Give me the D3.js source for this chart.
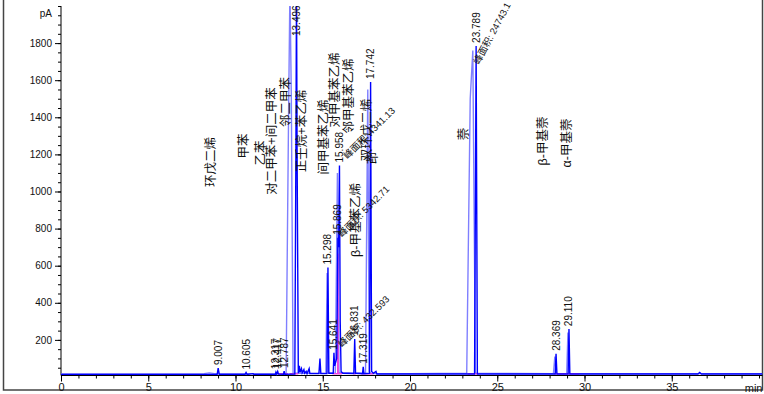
<!DOCTYPE html>
<html>
<head>
<meta charset="utf-8">
<script src="https://cdn.jsdelivr.net/npm/d3@7"></script>
<style>
  body { margin: 0; background: #fff; }
  svg { display: block; }
  text { font-family: "Liberation Sans", Arial, "Noto Sans CJK SC", sans-serif; fill: #111; }
</style>
</head>
<body>
<script>
// ---- data (time in min, signal in pA) ----
// main trace (dark blue)
var darkT = [0, 8.0, 8.95, 9.007, 9.07, 10.55, 10.605, 10.66, 11.0, 11.05, 11.1,
  12.28, 12.317, 12.36, 12.417, 12.46, 12.75, 12.787, 12.83,
  13.40, 13.46, 13.496, 13.53, 13.60, 13.66, 13.70, 13.78, 13.82, 13.92, 13.96, 14.05, 14.10, 14.22, 14.26,
  14.78, 14.84, 14.89, 15.24, 15.298, 15.35, 15.60, 15.641, 15.68, 15.80, 15.869, 15.91, 15.958, 16.00, 16.05, 16.15,
  16.78, 16.831, 16.88, 17.28, 17.319, 17.36, 17.68, 17.742, 17.80, 17.90, 18.05, 18.10,
  23.70, 23.789, 23.86, 28.32, 28.369, 28.42, 29.06, 29.110, 29.16, 36.5, 36.6, 36.7, 40.2];
var darkV = [14, 14, 14, 48, 14, 14, 24, 14, 18, 14, 14,
  14, 26, 16, 30, 16, 15, 32, 15,
  16, 1200, 2100, 1200, 20, 60, 25, 45, 22, 40, 20, 30, 18, 45, 18,
  18, 100, 18, 18, 590, 20, 20, 130, 60, 100, 750, 700, 1140, 300, 30, 20,
  18, 205, 20, 18, 55, 18, 20, 1590, 30, 20, 30, 16,
  16, 1785, 16, 16, 125, 16, 16, 258, 16, 16, 24, 16, 16];

// second trace (light blue), slightly earlier and broader
var lightT = [0, 8.2, 8.5, 8.8, 12.9, 13.05, 13.12, 13.2, 13.3, 15.18, 15.25, 15.32,
  15.72, 15.84, 15.93, 17.45, 17.58, 17.66, 17.75, 20.0, 23.25, 23.45, 23.6, 23.75,
  28.22, 28.30, 28.38, 28.98, 29.05, 29.13, 40.2];
var lightV = [16, 18, 22, 18, 18, 1500, 2100, 1500, 20, 20, 560, 22,
  20, 1100, 24, 20, 1550, 30, 18, 18, 20, 1500, 1760, 20,
  18, 110, 18, 18, 240, 18, 18];

// integration baseline / integrated peak (pink); null breaks the line
var pinkT = [12.45, 13.0, null, 13.1, 13.6, null, 15.55, 15.86, 15.87, 15.88, 16.1, null,
  16.75, 16.9, null, 17.2, 17.9, null, 23.3, 23.95, null, 28.25, 29.7];
var pinkV = [18, 18, null, 18, 18, null, 18, 18, 665, 18, 18, null,
  18, 18, null, 18, 18, null, 18, 18, null, 18, 18];

// retention time labels
var rtTimes = [9.007, 10.605, 12.317, 12.417, 12.787, 13.496, 15.298, 15.641, 15.869, 15.958,
  16.831, 17.319, 17.742, 23.789, 28.369, 29.110];
var rtHeights = [48, 24, 26, 30, 32, 2100, 590, 130, 750, 1140, 205, 55, 1590, 1785, 125, 258];

// peak area labels
var areaTimes = [15.641, 15.869, 15.958, 23.789];
var areaHeights = [130, 750, 1140, 1785];
var areaValues = ["432.593", "5342.71", "4341.13", "24743.1"];

// compound names and the time where each name stands
var names = ["环戊二烯", "甲苯", "乙苯", "对二甲苯+间二甲苯", "邻二甲苯", "正壬烷+苯乙烯",
  "间甲基苯乙烯", "对甲基苯乙烯", "邻甲基苯乙烯", "β-甲基苯乙烯", "双环戊二烯", "茚",
  "萘", "β-甲基萘", "α-甲基萘"];
var nameTimes = [8.62, 10.5, 11.47, 12.1, 12.9, 13.81, 15.06, 15.69, 16.49, 16.89, 17.52, 17.86,
  23.11, 27.62, 28.99];

var xMajor = [0, 5, 10, 15, 20, 25, 30, 35];
var yMajor = [200, 400, 600, 800, 1000, 1200, 1400, 1600, 1800];

// ---- layout ----
var W = 764, H = 394;
var pL = 61, pR = 762.5, pT = 6, pB = 375.5;
var nameMidY = [162, 146, 153, 141, 102, 131, 137, 90, 96, 220, 130, 158, 134, 141, 143];
var areaOffset = [[8, -5, -45], [4, 0, -45], [8, -6, -45], [3, 19, -62]];

var svg = d3.select("body").append("svg").attr("width", W).attr("height", H);

var x = d3.scaleLinear().domain([0, 40.2]).range([pL, pR]);
var y = d3.scaleLinear().domain([8, 2000]).range([pB, pT]);

// outer frame
svg.append("rect").attr("x", 3.5).attr("y", -2).attr("width", 759).attr("height", 392)
  .attr("fill", "none").attr("stroke", "#444").attr("stroke-width", 1.5);

svg.append("clipPath").attr("id", "plot")
  .append("rect").attr("x", pL).attr("y", pT).attr("width", pR - pL).attr("height", pB - pT + 2);

// axes
var gx = svg.append("g").attr("transform", "translate(0," + pB + ")");
gx.call(d3.axisBottom(x).tickValues(d3.range(0, 41, 1)).tickSize(3).tickFormat(""));
gx.append("g").call(d3.axisBottom(x).tickValues(xMajor).tickSize(6).tickPadding(2).tickFormat(d3.format("d")));
gx.selectAll("text").attr("font-size", 11).attr("fill", "#111");
gx.selectAll(".domain").remove();
svg.append("line").attr("x1", pL).attr("x2", pR).attr("y1", pB).attr("y2", pB).attr("stroke", "#000");
svg.append("text").attr("x", pR).attr("y", 392).attr("text-anchor", "end")
  .attr("font-size", 11).text("min");

var gy = svg.append("g").attr("transform", "translate(" + pL + ",0)");
gy.call(d3.axisLeft(y).tickValues(d3.range(50, 2001, 50)).tickSize(3).tickFormat(""));
gy.append("g").call(d3.axisLeft(y).tickValues(yMajor).tickSize(6).tickPadding(3).tickFormat(d3.format("d")));
gy.selectAll("text").attr("font-size", 10).attr("fill", "#111");
gy.selectAll(".domain").remove();
svg.append("line").attr("x1", pL).attr("x2", pL).attr("y1", pT).attr("y2", pB).attr("stroke", "#000");
svg.append("text").attr("x", 52).attr("y", 17).attr("text-anchor", "end")
  .attr("font-size", 10).text("pA");

// traces
var line = d3.line()
  .defined(function (d) { return d[0] !== null; })
  .x(function (d) { return x(d[0]); })
  .y(function (d) { return y(d[1]); });

var plot = svg.append("g").attr("clip-path", "url(#plot)");
plot.append("path").datum(d3.zip(lightT, lightV)).attr("d", line)
  .attr("fill", "none").attr("stroke", "#7f7fff").attr("stroke-width", 1.4);
plot.append("path").datum(d3.zip(pinkT, pinkV)).attr("d", line)
  .attr("fill", "none").attr("stroke", "#ee44dd").attr("stroke-width", 1.5);
plot.append("path").datum(d3.zip(darkT, darkV)).attr("d", line)
  .attr("fill", "none").attr("stroke", "#0000ff").attr("stroke-width", 1.4);

// retention time labels
svg.append("g").selectAll("text").data(d3.zip(rtTimes, rtHeights)).join("text")
  .attr("transform", function (d) {
    var yb = y(d[1]) < 40 ? 36 : y(d[1]) - 3;
    return "translate(" + x(d[0]) + "," + yb + ") rotate(-90)";
  })
  .attr("dominant-baseline", "central")
  .attr("font-size", 10)
  .text(function (d) { return d3.format(".3f")(d[0]); });

// area labels
svg.append("g").selectAll("text").data(d3.range(areaTimes.length)).join("text")
  .attr("transform", function (i) {
    var o = areaOffset[i];
    return "translate(" + (x(areaTimes[i]) + o[0]) + "," + (y(areaHeights[i]) + o[1]) + ") rotate(" + o[2] + ")";
  })
  .attr("font-size", 9.5)
  .text(function (i) { return "峰面积: " + areaValues[i]; });

// compound names
svg.append("g").selectAll("text").data(d3.range(names.length)).join("text")
  .attr("transform", function (i) {
    return "translate(" + x(nameTimes[i]) + "," + nameMidY[i] + ") rotate(-90)";
  })
  .attr("text-anchor", "middle")
  .attr("dominant-baseline", "central")
  .attr("font-family", "'Noto Sans CJK SC', sans-serif")
  .attr("font-size", 12.5)
  .text(function (i) { return names[i]; });
</script>
</body>
</html>
